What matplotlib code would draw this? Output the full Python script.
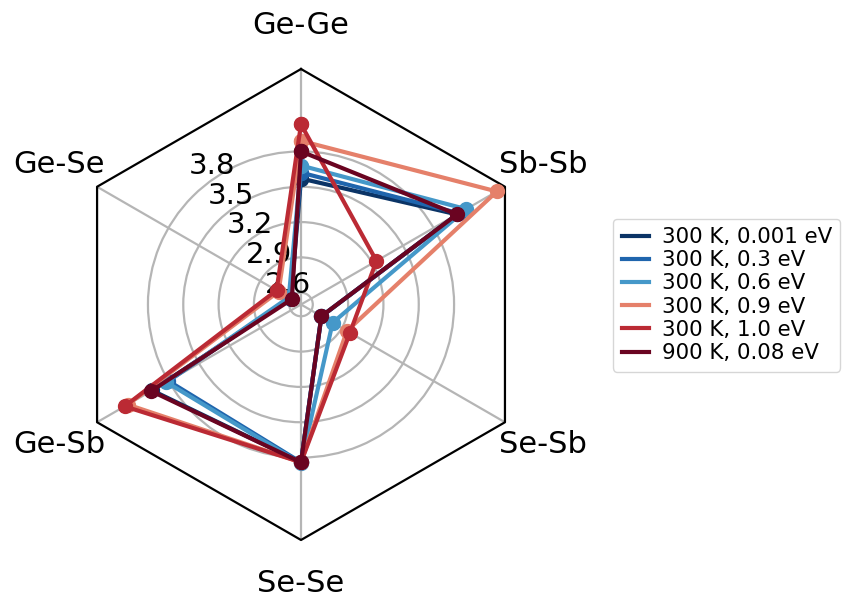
import numpy as np
import matplotlib
matplotlib.use("Agg")
import matplotlib.pyplot as plt
from matplotlib.lines import Line2D

# bond-length radar, one trace per condition
bonds = ["Ge-Ge", "Ge-Se", "Ge-Sb", "Se-Se", "Se-Sb", "Sb-Sb"]
labels = ["300 K, 0.001 eV", "300 K, 0.3 eV", "300 K, 0.6 eV",
          "300 K, 0.9 eV", "300 K, 1.0 eV", "900 K, 0.08 eV"]
colors = ["#0b3466", "#1f65ad", "#4598c9", "#e5806a", "#bb2a34", "#6a0421"]

t300_0001 = [3.57, 2.60, 3.96, 3.84, 2.70, 4.03]
t300_03 = [3.62, 2.61, 3.80, 3.84, 2.70, 4.05]
t300_06 = [3.68, 2.62, 3.82, 3.85, 2.81, 4.12]
t300_09 = [3.89, 2.72, 4.20, 3.84, 2.95, 4.42]
t300_10 = [4.03, 2.74, 4.23, 3.84, 2.98, 3.24]
t900_008 = [3.80, 2.59, 3.97, 3.84, 2.70, 4.03]
series = [t300_0001, t300_03, t300_06, t300_09, t300_10, t900_008]

rticks = [2.6, 2.9, 3.2, 3.5, 3.8]
rmin, rmax = 2.5, 4.5

theta = np.linspace(0, 2 * np.pi, len(bonds), endpoint=False)

fig = plt.figure(figsize=(8.42, 5.98), dpi=100)
ax = fig.add_axes([0.0778, 0.097, 0.5594, 0.7876], projection="polar")
ax.set_theta_zero_location("N")
ax.spines["polar"].set_visible(False)
ax.patch.set_visible(False)

# hexagonal frame
ax.plot(np.r_[theta, theta[:1]], [rmax] * (len(bonds) + 1), color="black",
        lw=1.6, clip_on=False, zorder=2.6)

for vals, c in zip(series, colors):
    ax.plot(np.r_[theta, theta[:1]], vals + vals[:1], color=c, lw=3,
            marker="o", ms=10, zorder=3)

ax.set_ylim(rmin, rmax)
ax.set_rgrids(rticks, labels=[])
# radial labels drawn by hand along a ray slightly left of north
for t in rticks:
    ax.text(np.radians(32.7), t + 0.10, f"{t}", fontsize=21,
            ha="center", va="center", zorder=2.5)
ax.set_thetagrids(np.degrees(theta), bonds, fontsize=22)
ax.tick_params(axis="x", pad=21)
ax.grid(color="#b5b5b5", lw=1.6)

handles = [Line2D([], [], color=c, lw=3) for c in colors]
ax.legend(handles, labels, loc="center left", bbox_to_anchor=(1.14, 0.52),
          fontsize=15.4, labelspacing=0.15, handlelength=1.27,
          handletextpad=0.6)

plt.savefig("out.png", dpi=100)
